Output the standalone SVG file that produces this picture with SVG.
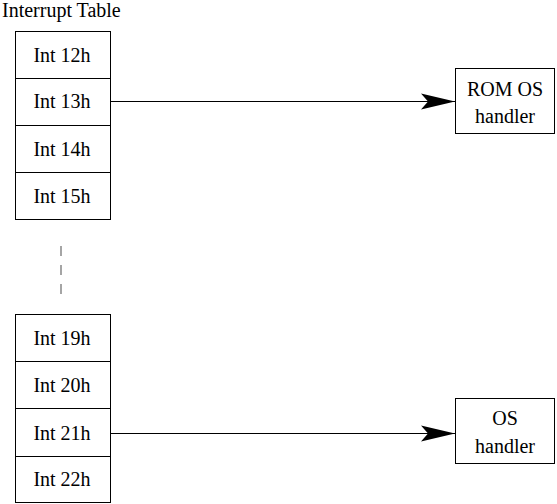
<svg xmlns="http://www.w3.org/2000/svg" width="557" height="504" viewBox="0 0 557 504">
<style>
  text { font-family: 'Liberation Serif', 'DejaVu Serif', serif; font-size: 20px; fill: #000; }
  .c { text-anchor: middle; }
  .box { fill: #fff; stroke: #000; stroke-width: 1; }
  .conn { stroke: #000; stroke-width: 1; fill: none; }
  .dash { stroke: #888; stroke-width: 1.5; stroke-dasharray: 10 9; fill: none; }
</style>
<defs>
  <marker id="arrow" markerUnits="userSpaceOnUse" markerWidth="36" markerHeight="18" refX="35" refY="9" orient="auto">
    <path d="M1,1 L35,9 L1,17 L8,9 Z" fill="#000"/>
  </marker>
</defs>
<rect width="557" height="504" fill="#fff"/>
<text x="2" y="17" font-family="Liberation Serif, serif">Interrupt Table</text>

<g id="int12h"><rect class="box" x="15.5" y="31.5" width="95" height="47"/><text class="c" x="62" y="62">Int 12h</text></g>
<g id="int13h"><rect class="box" x="15.5" y="78.5" width="95" height="47"/><text class="c" x="62" y="108">Int 13h</text></g>
<g id="int14h"><rect class="box" x="15.5" y="125.5" width="95" height="47"/><text class="c" x="62" y="156">Int 14h</text></g>
<g id="int15h"><rect class="box" x="15.5" y="172.5" width="95" height="47"/><text class="c" x="62" y="203">Int 15h</text></g>

<g id="int19h"><rect class="box" x="15.5" y="314.5" width="95" height="47"/><text class="c" x="62" y="345">Int 19h</text></g>
<g id="int20h"><rect class="box" x="15.5" y="361.5" width="95" height="47"/><text class="c" x="62" y="392">Int 20h</text></g>
<g id="int21h"><rect class="box" x="15.5" y="408.5" width="95" height="48"/><text class="c" x="62" y="440">Int 21h</text></g>
<g id="int22h"><rect class="box" x="15.5" y="456.5" width="95" height="46"/><text class="c" x="62" y="486">Int 22h</text></g>

<g id="rom-os-handler"><rect class="box" x="455.5" y="68.5" width="99" height="65"/><text class="c" x="505" y="96">ROM OS</text><text class="c" x="505" y="123">handler</text></g>
<g id="os-handler"><rect class="box" x="455.5" y="398.5" width="99" height="65"/><text class="c" x="505" y="425">OS</text><text class="c" x="505" y="453">handler</text></g>

<g id="connectors">
  <line class="dash" x1="61" y1="246" x2="61" y2="294"/>
  <line class="conn" x1="110" y1="101.5" x2="455" y2="101.5" marker-end="url(#arrow)"/>
  <line class="conn" x1="110" y1="433.5" x2="455" y2="433.5" marker-end="url(#arrow)"/>
</g>
</svg>
